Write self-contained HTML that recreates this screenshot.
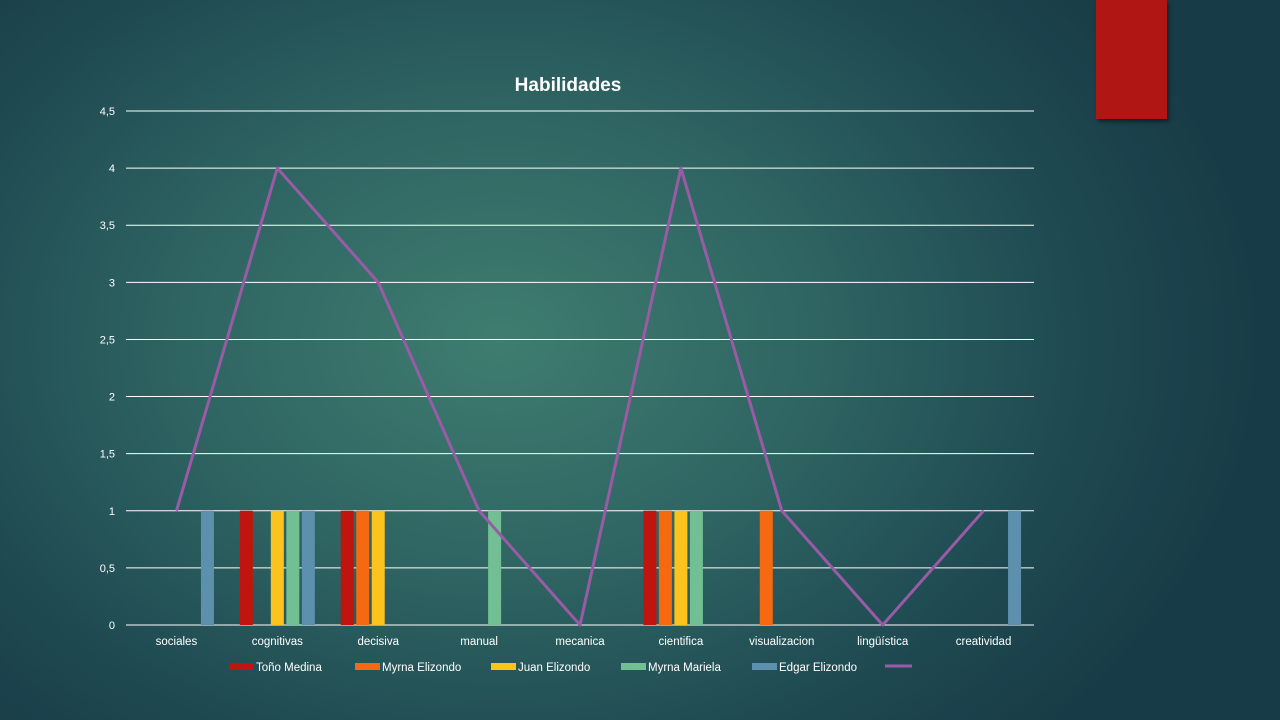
<!DOCTYPE html>
<html><head><meta charset="utf-8">
<style>
html,body{margin:0;padding:0;}
body{width:1280px;height:720px;overflow:hidden;font-family:"Liberation Sans",sans-serif;
background:radial-gradient(ellipse 760px 560px at 500px 340px,#3f7d70 0%,#2d6261 45%,#1f4a52 75%,#183c47 100%);position:relative;}
#accent{position:absolute;left:1096px;top:0;width:71px;height:119px;background:#b01614;box-shadow:2px 3px 4px rgba(0,0,0,.45);}
svg{position:absolute;left:0;top:0;}
</style></head><body>
<div id="accent"></div>
<svg id="chart" width="1280" height="720"></svg>
<script>
const categories=["sociales","cognitivas","decisiva","manual","mecanica","cientifica","visualizacion","lingüística","creatividad"];
const seriesNames=["Toño Medina","Myrna Elizondo","Juan Elizondo","Myrna Mariela","Edgar Elizondo"];
const tonoValues=[0,1,1,0,0,1,0,0,0];
const myrnaEValues=[0,0,1,0,0,1,1,0,0];
const juanValues=[0,1,1,0,0,1,0,0,0];
const myrnaMValues=[0,1,0,1,0,1,0,0,0];
const edgarValues=[1,1,0,0,0,0,0,0,1];
const lineValues=[1,4,3,1,0,4,1,0,1];
const yTicks=[0,0.5,1,1.5,2,2.5,3,3.5,4,4.5];
const yTickLabels=["0","0,5","1","1,5","2","2,5","3","3,5","4","4,5"];
const colors=["#c0150f","#f56a10","#fcc21e","#72bf94","#5d90ad"];
const NS="http://www.w3.org/2000/svg";
const svg=document.getElementById('chart');
const X0=126,X1=1034,Y0=625,Ytop=111,YMAX=4.5;
const band=(X1-X0)/categories.length;
function xc(i){return X0+band*(i+0.5);}
function y(v){return Y0-(v/YMAX)*(Y0-Ytop);}
function mk(tag,attrs){const e=document.createElementNS(NS,tag);for(const k in attrs)e.setAttribute(k,attrs[k]);svg.appendChild(e);return e;}
let t=mk('text',{x:568,y:91,'text-anchor':'middle',fill:'#fff','font-size':19,'font-weight':'bold'});t.textContent="Habilidades";

yTicks.forEach((v,i)=>{
 const l=mk('line',{x1:X0,x2:X1,y1:y(v),y2:y(v),stroke:'#fff','stroke-width':1});
 
 const tx=mk('text',{x:115,y:y(v)+4,'text-anchor':'end',fill:'#fff','font-size':11});tx.textContent=yTickLabels[i];
 
});
categories.forEach((c,i)=>{
 const tx=mk('text',{x:xc(i),y:645,'text-anchor':'middle',fill:'#fff','font-size':11.5});tx.textContent=c;
 
});
const all=[tonoValues,myrnaEValues,juanValues,myrnaMValues,edgarValues];
all.forEach((vals,s)=>{
 vals.forEach((v,i)=>{
  if(v<=0)return;
  const cx=xc(i)+(s-2)*15.5;
  const r=mk('rect',{x:cx-6.5,y:y(v),width:13,height:Y0-y(v),fill:colors[s]});
  
  
 });
});
const pts=lineValues.map((v,i)=>xc(i)+','+y(v)).join(' ');
const pl=mk('polyline',{points:pts,fill:'none',stroke:'#9a5ba6','stroke-width':3,'stroke-linejoin':'round'});

const legX=[229,355,491,621,752];
seriesNames.forEach((n,s)=>{
 const r=mk('rect',{x:legX[s],y:663,width:25,height:7,fill:colors[s]});
 
 const tx=mk('text',{x:legX[s]+27,y:671,fill:'#fff','font-size':11.5});tx.textContent=n;
 
});
const ll=mk('line',{x1:885,x2:912,y1:666,y2:666,stroke:'#9a5ba6','stroke-width':3});

</script>
</body></html>
